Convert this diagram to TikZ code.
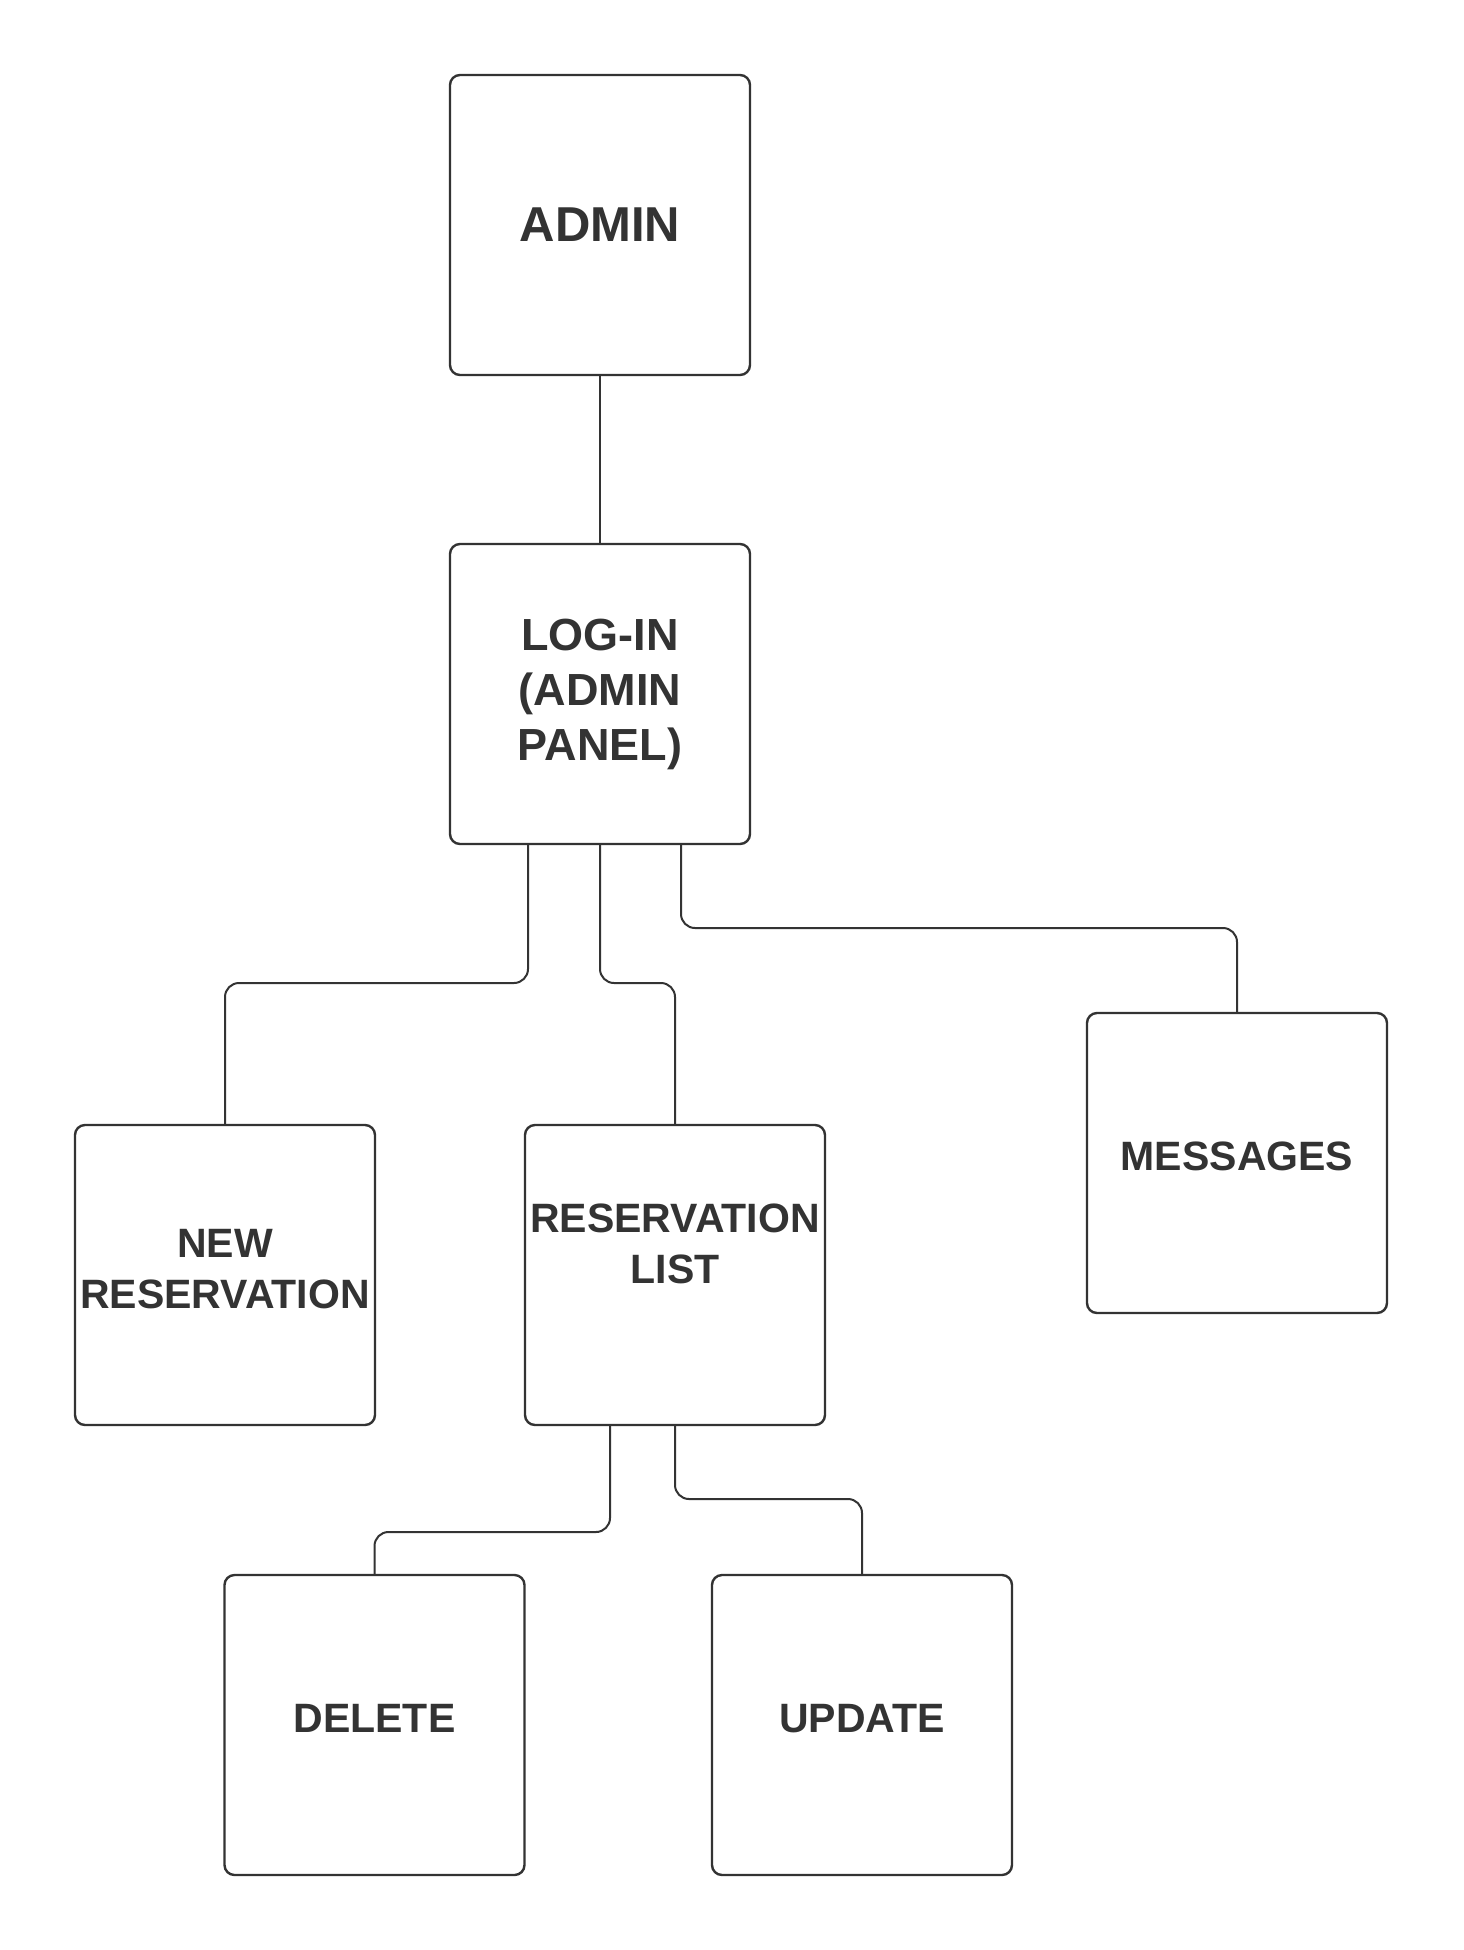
\documentclass[tikz,border=0pt]{standalone}
\usepackage{fontspec}
\setmainfont{Liberation Sans}
\usetikzlibrary{calc}
\definecolor{ink}{HTML}{333333}

\begin{document}
\begin{tikzpicture}[x=0.5pt,y=-0.5pt,
  box/.style={draw=ink, line width=1.2pt, rounded corners=5pt,
    minimum width=150pt, minimum height=150pt, inner sep=0pt,
    align=center, text=ink, font=\bfseries\fontsize{20.5}{25.5}\selectfont},
  lifted/.style={text depth=#1},
  link/.style={draw=ink, line width=1pt, rounded corners=7pt}]
  \useasboundingbox[fill=white] (0,0) rectangle (1463,1950);

  % Admin and log-in
  \node[box, font=\bfseries\fontsize{24.5}{30}\selectfont] (admin) at (600,225) {ADMIN};
  \node[box, font=\bfseries\fontsize{22.5}{27.5}\selectfont] (login) at (600,694) {LOG-IN\\(ADMIN\\PANEL)};

  % Admin panel items
  \node[box, lifted=6pt] (newres) at (225,1275) {NEW\\RESERVATION};
  \node[box, lifted=31pt] (reslist) at (675,1275) {RESERVATION\\LIST};
  \node[box, lifted=7pt] (messages) at (1237,1163) {MESSAGES};

  % Reservation list actions
  \node[box, lifted=7pt] (delete) at (374.5,1725) {DELETE};
  \node[box, lifted=7pt] (update) at (862,1725) {UPDATE};

  % Bend levels
  \coordinate (lvlA) at (0,983);
  \coordinate (lvlB) at (0,928);
  \coordinate (lvlC) at (0,1532);
  \coordinate (lvlD) at (0,1499);

  % Connectors
  \draw[link] (admin.south) -- (login.north);
  \draw[link] ($(login.south)+(-72,0)$) |- (newres |- lvlA) -- (newres.north);
  \draw[link] (login.south) |- (reslist |- lvlA) -- (reslist.north);
  \draw[link] ($(login.south)+(81,0)$) |- (messages |- lvlB) -- (messages.north);
  \draw[link] ($(reslist.south)+(-65,0)$) |- (delete |- lvlC) -- (delete.north);
  \draw[link] (reslist.south) |- (update |- lvlD) -- (update.north);
\end{tikzpicture}
\end{document}
